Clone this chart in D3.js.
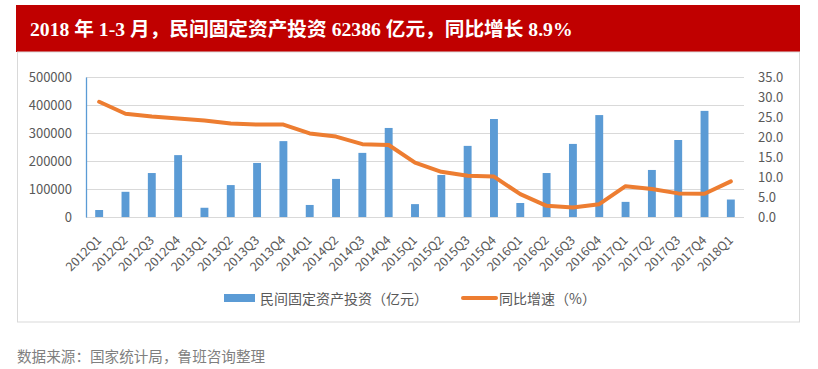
<!DOCTYPE html>
<html><head><meta charset="utf-8">
<script src="https://cdn.jsdelivr.net/npm/d3@7"></script>
<style>body{margin:0;background:#fff}svg{display:block}</style>
</head><body>
<svg id="c" width="818" height="369"></svg>
<script>
const titleText = "2018 年 1-3 月，民间固定资产投资 62386 亿元，同比增长 8.9%";
const sourceText = "数据来源：国家统计局，鲁班咨询整理";
const categories = ["2012Q1","2012Q2","2012Q3","2012Q4","2013Q1","2013Q2","2013Q3","2013Q4",
 "2014Q1","2014Q2","2014Q3","2014Q4","2015Q1","2015Q2","2015Q3","2015Q4",
 "2016Q1","2016Q2","2016Q3","2016Q4","2017Q1","2017Q2","2017Q3","2017Q4","2018Q1"];
const investment = [25000,90000,157000,221000,33000,114000,193000,271000,
 43000,136000,229000,318000,46000,150000,254000,350000,
 50000,157000,261000,364000,54000,168000,275000,379000,62386];
const growth = [28.8,25.8,25.1,24.6,24.1,23.4,23.1,23.1,
 20.9,20.1,18.2,18.0,13.6,11.3,10.3,10.1,
 5.7,2.8,2.4,3.2,7.7,7.0,5.9,5.8,8.9];
const leftTicks = [0,100000,200000,300000,400000,500000];
const rightTicks = [0,5,10,15,20,25,30,35];
const seriesNames = ["民间固定资产投资（亿元）","同比增速（%）"];

const svg = d3.select("#c");
const cjk = "'Noto Sans CJK SC','Noto Sans',sans-serif";
const gray = "#595959";

// banner
svg.append("rect").attr("x",16).attr("y",5).attr("width",784).attr("height",47).attr("fill","#C00000");
const t = svg.append("text").attr("x",30).attr("y",36).attr("fill","#fff")
  .attr("font-family","'Liberation Serif','Noto Sans CJK SC',serif").attr("font-weight","bold")
  .attr("font-size",19).text(titleText);
const w = t.node().getComputedTextLength();
t.attr("font-size", 19*543/w);

// chart box
svg.append("rect").attr("x",17.5).attr("y",52).attr("width",782).attr("height",270)
  .attr("fill","none").attr("stroke","#d9d9d9");

const x = d3.scaleBand().domain(categories).range([86,744]).paddingInner(0.7).paddingOuter(0.35);
const yL = d3.scaleLinear().domain([0,500000]).range([217,77]);
const yR = d3.scaleLinear().domain([0,35]).range([217,77]);

// gridlines
svg.append("g").selectAll("line").data(leftTicks).join("line")
  .attr("x1",86).attr("x2",744).attr("y1",d=>yL(d)+0.5).attr("y2",d=>yL(d)+0.5)
  .attr("stroke","#d9d9d9").attr("stroke-width",1);

// left axis
const gL = svg.append("g").attr("transform","translate(86,0)")
  .call(d3.axisLeft(yL).tickValues(leftTicks).tickSize(0).tickPadding(14).tickFormat(d3.format("d")));
gL.select(".domain").attr("stroke","#5B9BD5").attr("stroke-width",1.3);
gL.selectAll("text").attr("font-family",cjk).attr("font-size",13).attr("fill",gray);

// right axis
const gR = svg.append("g").attr("transform","translate(744,0)")
  .call(d3.axisRight(yR).tickValues(rightTicks).tickSize(0).tickPadding(14).tickFormat(d3.format(".1f")));
gR.select(".domain").remove();
gR.selectAll("text").attr("font-family",cjk).attr("font-size",13).attr("fill",gray);

// bottom axis labels
const gB = svg.append("g").attr("transform","translate(0,217)")
  .call(d3.axisBottom(x).tickSize(0).tickPadding(0));
gB.select(".domain").remove();
gB.selectAll("text").attr("font-family",cjk).attr("font-size",12.5).attr("fill",gray)
  .attr("text-anchor","end").attr("dy","0").attr("y",0)
  .attr("transform","translate(3,24) rotate(-45)");

// bars
svg.append("g").selectAll("rect").data(investment).join("rect")
  .attr("x",(d,i)=>x(categories[i])).attr("width",x.bandwidth())
  .attr("y",d=>yL(d)).attr("height",d=>217-yL(d)).attr("fill","#5B9BD5");

// line
const line = d3.line().x((d,i)=>x(categories[i])+x.bandwidth()/2).y(d=>yR(d));
svg.append("path").datum(growth).attr("d",line).attr("fill","none")
  .attr("stroke","#ED7D31").attr("stroke-width",4).attr("stroke-linejoin","round").attr("stroke-linecap","round");

// legend
svg.append("rect").attr("x",224).attr("y",294).attr("width",31).attr("height",8).attr("fill","#5B9BD5");
svg.append("text").attr("x",260).attr("y",298).attr("dominant-baseline","central")
  .attr("font-family",cjk).attr("font-size",14).attr("fill",gray).text(seriesNames[0]);
svg.append("line").attr("x1",463).attr("x2",496).attr("y1",298).attr("y2",298)
  .attr("stroke","#ED7D31").attr("stroke-width",4).attr("stroke-linecap","round");
svg.append("text").attr("x",499).attr("y",298).attr("dominant-baseline","central")
  .attr("font-family",cjk).attr("font-size",14).attr("fill",gray).text(seriesNames[1]);

// source
svg.append("text").attr("x",17).attr("y",355).attr("dominant-baseline","central")
  .attr("font-family",cjk).attr("font-size",14.6).attr("fill","#7f7f7f").text(sourceText);
</script>
</body></html>
